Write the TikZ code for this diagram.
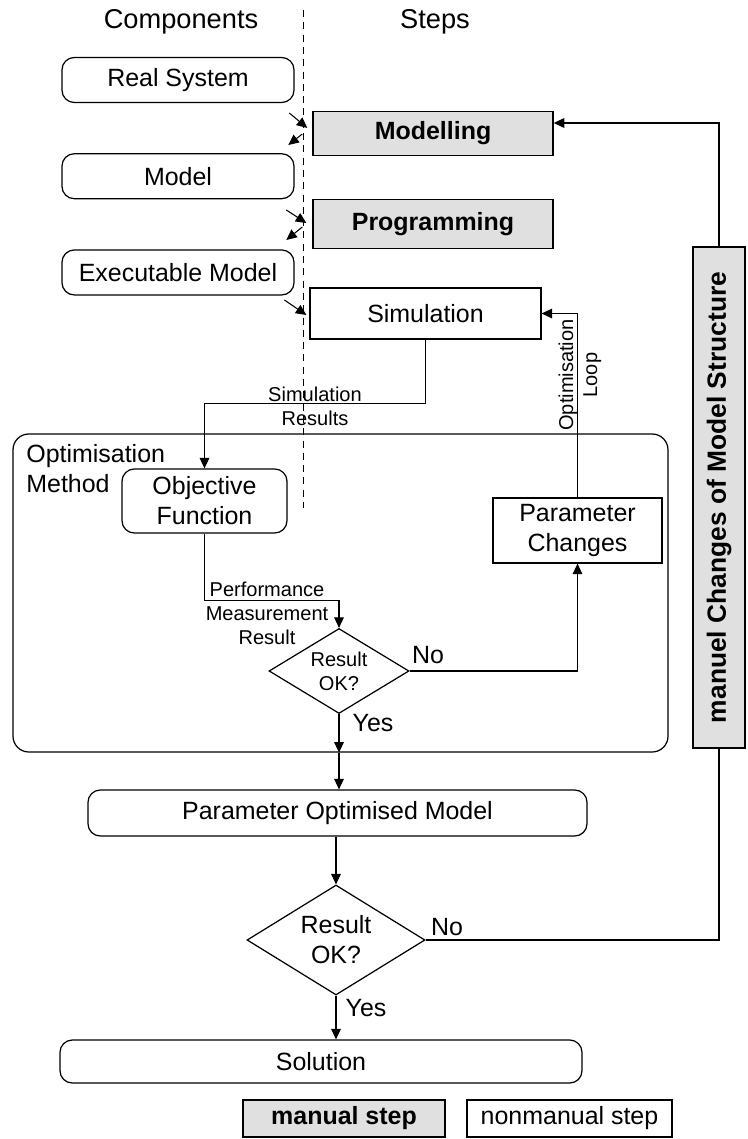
\documentclass[tikz,border=0pt]{standalone}
\usepackage{fontspec}
\setmainfont{Liberation Sans}
\usepackage{tikz}
\usetikzlibrary{shapes,arrows.meta,positioning,calc}
\definecolor{manualgray}{RGB}{224,224,224}
\newcommand{\mainsize}{\fontsize{14.2}{17}\selectfont}
\newcommand{\labelsize}{\fontsize{11.4}{13.6}\selectfont}
\newcommand{\headsize}{\fontsize{15.5}{18}\selectfont}

\begin{document}
\begin{tikzpicture}[
    component/.style={draw, rounded corners=7pt, fill=white, minimum width=4.64cm,
                      minimum height=0.9cm, align=center, font=\mainsize, line width=0.7pt},
    manual/.style={draw, fill=manualgray, minimum width=4.8cm, align=center,
                   font=\mainsize\bfseries, line width=0.8pt},
    nonmanual/.style={draw, fill=white, align=center, font=\mainsize, line width=0.7pt},
    decision/.style={draw, diamond, aspect=1.65, inner sep=0pt, align=center, line width=0.7pt},
    lbl/.style={align=center, font=\labelsize, inner sep=1pt},
    note/.style={font=\mainsize, inner sep=1pt},
    arrow/.style={->, >={Triangle[length=6pt,width=5.5pt]}, line width=0.6pt},
    link/.style={line width=0.6pt}
]

\useasboundingbox (0,0) rectangle (14.94,-22.78);

% headings and the dividing line
\node[note, font=\headsize] (comphead) at (3.62,-0.44) {Components};
\node[note, font=\headsize] (stephead) at (8.70,-0.44) {Steps};
\draw[dashed, dash pattern=on 4pt off 3pt, line width=0.5pt] (6.06,-0.2) -- (6.06,-10.16);

% components on the left
\node[component] (realsys) at (3.56,-1.60) {Real System};
\node[component, below=1.0cm of realsys] (model) {Model};
\node[component, below=1.0cm of model] (execmodel) {Executable Model};

% steps on the right
\node[manual, minimum height=0.88cm] (modelling) at (8.66,-2.67) {Modelling};
\node[manual, minimum height=0.98cm] (programming) at (8.66,-4.48) {Programming};
\node[nonmanual, minimum width=4.62cm, minimum height=1.02cm] (simulation) at (8.51,-6.27) {Simulation};

% component to step arrows
\draw[arrow] ($(modelling.west)+(-0.46,0.41)$) -- ($(modelling.west)+(-0.1,0.11)$);
\draw[arrow] ($(modelling.west)+(-0.2,-0.01)$) -- ($(modelling.west)+(-0.48,-0.23)$);
\draw[arrow] ($(programming.west)+(-0.52,0.28)$) -- ($(programming.west)+(-0.12,0.02)$);
\draw[arrow] ($(programming.west)+(-0.2,-0.06)$) -- ($(programming.west)+(-0.52,-0.32)$);
\draw[arrow] ($(simulation.west)+(-0.5,0.27)$) -- ($(simulation.west)+(-0.06,-0.03)$);

% optimisation method
\node[draw, rounded corners=9pt, minimum width=13.1cm, minimum height=6.36cm,
      line width=0.7pt] (optmethod) at (6.81,-11.86) {};
\node[anchor=north west, align=left, font=\mainsize, inner sep=0pt] (optlabel) at (0.52,-8.88) {Optimisation\\Method};
\node[component, minimum width=3.3cm, minimum height=1.28cm] (objective) at (4.09,-10.02) {Objective\\Function};
\node[nonmanual, minimum width=3.38cm, minimum height=1.3cm] (paramchg) at (11.55,-10.61) {Parameter\\Changes};
\node[decision, font=\labelsize, minimum width=2.8cm, minimum height=1.7cm] (check1) at (6.78,-13.42) {Result\\OK?};

% results below
\node[component, minimum width=9.98cm, minimum height=0.92cm] (pom) at (6.75,-16.26) {Parameter Optimised Model};
\node[decision, font=\mainsize, minimum width=3.56cm, minimum height=2.2cm] (check2) at (6.72,-18.80) {Result\\OK?};
\node[component, minimum width=10.44cm, minimum height=0.86cm] (solution) at (6.42,-21.23) {Solution};

% manual structure changes
\node[manual, rotate=90, minimum width=10.02cm, minimum height=1.04cm,
      font=\fontsize{15}{18}\selectfont\bfseries] (structure) at (14.38,-9.95) {manuel Changes of Model Structure};

% legend
\node[manual, minimum width=4.04cm, minimum height=0.74cm] (legmanual) at (6.88,-22.37) {manual step};
\node[nonmanual, minimum width=4.1cm, minimum height=0.74cm] (legnonmanual) at (11.39,-22.37) {nonmanual step};

% connector labels
\node[lbl] (simres) at (6.3,-8.12) {Simulation\\Results};
\node[lbl] (perfres) at (5.34,-12.26) {Performance\\Measurement\\Result};
\node[lbl, rotate=90] (optloop) at (11.6,-7.5) {Optimisation\\Loop};
\node[note] (no1) at (8.56,-13.1) {No};
\node[note] (yes1) at (7.46,-14.46) {Yes};
\node[note] (no2) at (8.94,-18.54) {No};
\node[note] (yes2) at (7.32,-20.16) {Yes};

% flow
\draw[arrow] (simulation.south) -- ++(0,-1.28) -| (objective.north);
\draw[arrow] (objective.south) -- ++(0,-1.34) -| (check1.north);
\draw[arrow] (check1.east) -| (paramchg.south);
\draw[arrow] (paramchg.north) |- (simulation.east);
\draw[arrow] (check1.south) -- (check1.south |- optmethod.south);
\draw[arrow] (check1.south |- optmethod.south) -- (check1.south |- pom.north);
\draw[arrow] (check2.north |- pom.south) -- (check2.north);
\draw[arrow] (check2.south) -- (check2.south |- solution.north);
\draw[link] (check2.east) -| (structure.west);
\draw[arrow] (structure.east) |- ([yshift=0.21cm]modelling.east);

\end{tikzpicture}
\end{document}
